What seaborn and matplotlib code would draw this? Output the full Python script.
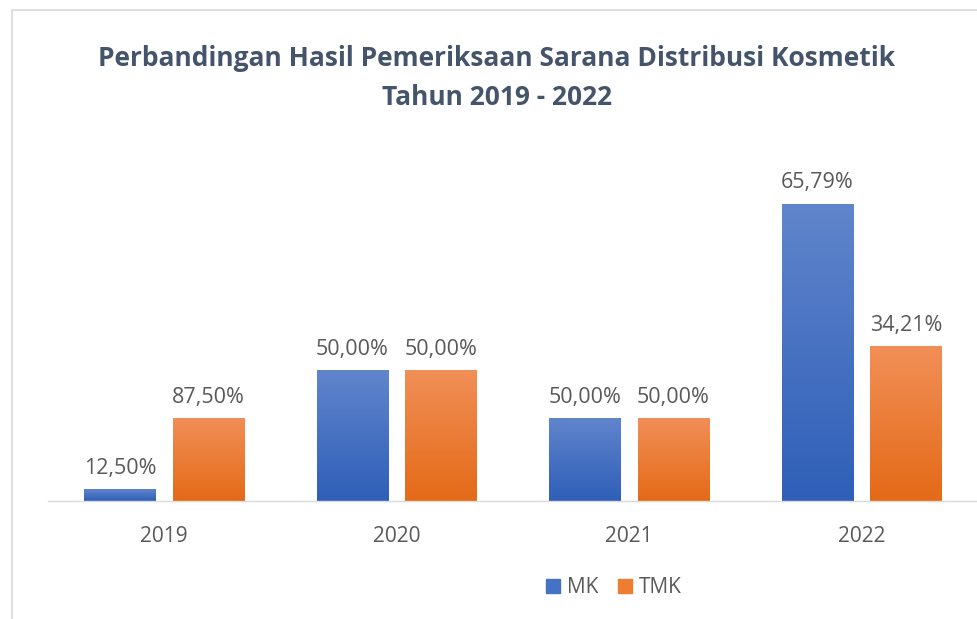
import numpy as np
import pandas as pd
import seaborn as sns
import matplotlib.pyplot as plt
import matplotlib as mpl
from matplotlib.colors import LinearSegmentedColormap
from matplotlib.patches import Rectangle
from matplotlib.lines import Line2D
mpl.use('Agg')

# data: bar heights are counts, labels are shares per year
years = ['2019', '2020', '2021', '2022']
mk_count = [1, 11, 7, 25]
tmk_count = [7, 11, 7, 13]
mk_pct = ['12,50%', '50,00%', '50,00%', '65,79%']
tmk_pct = ['87,50%', '50,00%', '50,00%', '34,21%']
series = ['MK', 'TMK']

df = pd.DataFrame({'Tahun': years * 2,
                   'Jumlah': mk_count + tmk_count,
                   'Label': mk_pct + tmk_pct,
                   'Hasil': ['MK'] * 4 + ['TMK'] * 4})

sns.set_style('white')
plt.rcParams['font.family'] = ['Open Sans', 'DejaVu Sans']
txt = '#595959'
colors = ['#4472C4', '#ED7D31']
grads = [('#6085CC', '#2F5FB8'), ('#F18F57', '#E46A17')]

fig = plt.figure(figsize=(9.78, 6.19), dpi=100)
ax = fig.add_axes([0.049, 0.1906, 0.951, 0.567])
sns.barplot(ax=ax, data=df, x='Tahun', y='Jumlah', hue='Hasil', order=years,
            hue_order=series, palette=colors, width=0.76, gap=0.19,
            legend=False)

# gradient fill + labels
for cont, (ctop, cbot), labs in zip(ax.containers, grads, [mk_pct, tmk_pct]):
    cmap = LinearSegmentedColormap.from_list('g', [cbot, ctop])
    for bar, lab in zip(cont, labs):
        x0, y0 = bar.get_x(), bar.get_y()
        w, h = bar.get_width(), bar.get_height()
        bar.set_facecolor('none')
        bar.set_edgecolor('none')
        im = ax.imshow(np.linspace(0, 1, 100).reshape(-1, 1), cmap=cmap,
                       extent=[x0, x0 + w, y0, y0 + h], origin='lower',
                       aspect='auto', zorder=2)
        im.set_clip_path(bar)
        ax.text(x0 + w / 2, y0 + h + 0.85, lab, ha='center', va='bottom',
                fontsize=15.5, color=txt)
ax.set_xlim(-0.5, 3.5)
ax.set_ylim(0, 29.5)

for s in ['top', 'right', 'left']:
    ax.spines[s].set_visible(False)
ax.spines['bottom'].set_color('#D9D9D9')
ax.spines['bottom'].set_linewidth(1)
ax.set_yticks([])
ax.set_xlabel('')
ax.set_ylabel('')
ax.set_xticks(range(4))
ax.set_xticklabels(years, fontsize=15, color=txt)
ax.tick_params(axis='x', which='major', length=0, pad=18)
ax.set_xticks(np.arange(-0.5, 4, 1.0), minor=True)
ax.tick_params(axis='x', which='minor', length=9, color='#D9D9D9', width=1)

fig.text(0.508, 0.906, 'Perbandingan Hasil Pemeriksaan Sarana Distribusi Kosmetik',
         ha='center', va='center', fontsize=19, fontweight='bold', color='#44546A')
fig.text(0.508, 0.843, 'Tahun 2019 - 2022',
         ha='center', va='center', fontsize=19, fontweight='bold', color='#44546A')

handles = [Line2D([], [], marker='s', ls='none', markersize=10,
                  markerfacecolor=c, markeredgecolor=c) for c in colors]
fig.legend(handles, series, loc='center', bbox_to_anchor=(0.627, 0.051), ncol=2,
           frameon=False, fontsize=15, labelcolor=txt, handlelength=0.8,
           handletextpad=0.25, columnspacing=0.9)

# outer chart frame
fig.patches.append(Rectangle((12 / 978, -0.1), 1.2, 1 - 10 / 619 + 0.1,
                             transform=fig.transFigure, fill=False,
                             edgecolor='#D9D9D9', lw=1.2))

plt.savefig('out.png', dpi=100)
